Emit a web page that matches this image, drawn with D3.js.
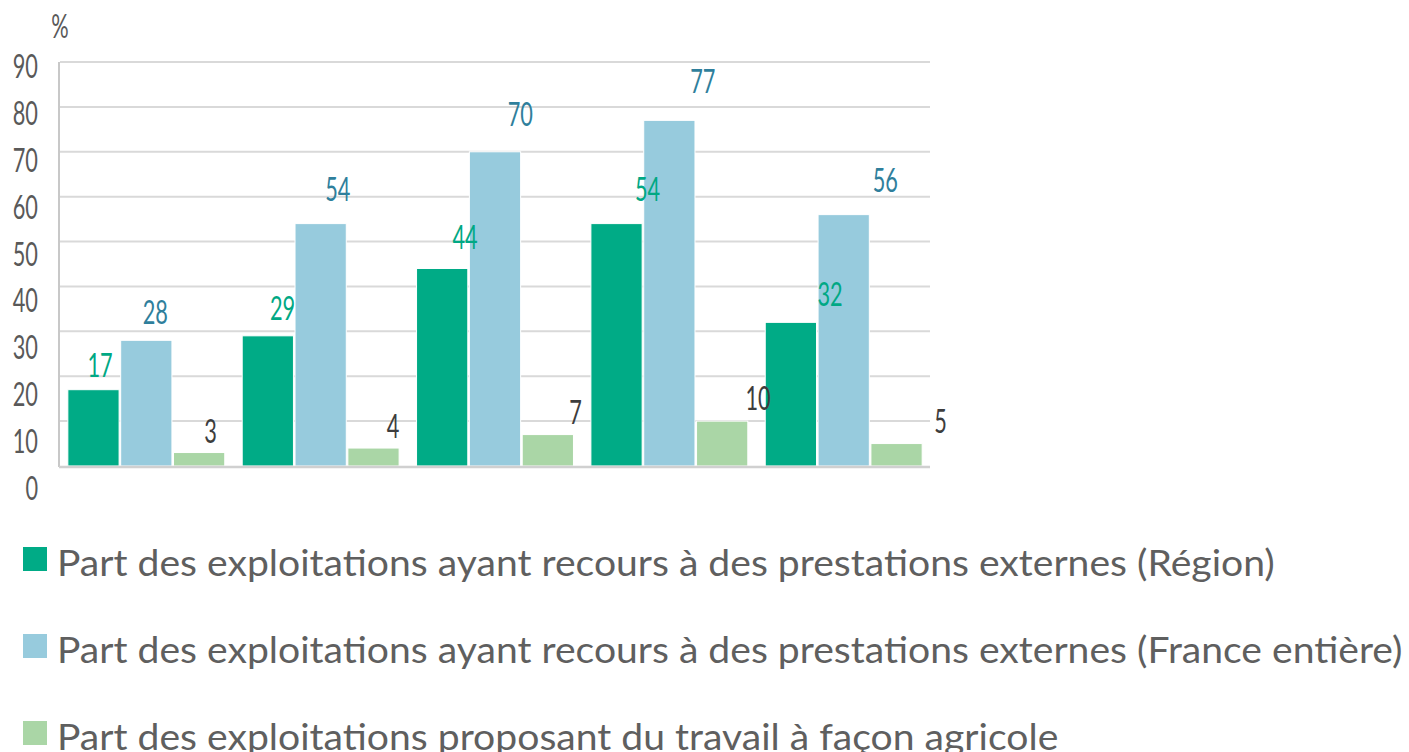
<!DOCTYPE html>
<html>
<head>
<meta charset="utf-8">
<script src="https://cdn.jsdelivr.net/npm/d3@7"></script>
<style>
  html, body { margin: 0; padding: 0; background: #fff; }
  svg { display: block; font-family: Lato, "Open Sans", sans-serif; }
</style>
</head>
<body>
<svg id="chart" width="1409" height="752"></svg>
<script>
// data
var categories = ["c1", "c2", "c3", "c4", "c5"];
var seriesNames = [
  "Part des exploitations ayant recours à des prestations externes (Région)",
  "Part des exploitations ayant recours à des prestations externes (France entière)",
  "Part des exploitations proposant du travail à façon agricole"
];
var region = [17, 29, 44, 54, 32];
var france = [28, 54, 70, 77, 56];
var facon = [3, 4, 7, 10, 5];
var yTicks = [0, 10, 20, 30, 40, 50, 60, 70, 80, 90];

var barColors = ["#00ab86", "#97cbdd", "#aad6a6"];
var labelColors = ["#00a884", "#2f7f9c", "#3d3d3d"];
var series = [region, france, facon];

var svg = d3.select("#chart");
var condensed = 0.68;

// scales
var x = d3.scaleBand().domain(categories).range([60, 930]).paddingInner(0.1).paddingOuter(0.045);
var xs = d3.scaleBand().domain([0, 1, 2]).range([0, x.bandwidth()]).paddingInner(0.03);
var y = d3.scaleLinear().domain([0, 90]).range([466, 62]);

// the text layer of the original sits slightly off the plot, keep it that way
var tickY = d3.scaleLinear().domain([0, 90]).range([500, 78]);
var labY = d3.scaleLinear().domain([0, 90]).range([457, 31]);
var c0 = x(categories[0]) + xs.bandwidth() / 2, c4 = x(categories[4]) + xs.bandwidth() / 2;
var labX = d3.scaleLinear().domain([c0, c4]).range([100, 830]);

// gridlines
svg.append("g").selectAll("line").data(yTicks.slice(1)).enter().append("line")
  .attr("x1", 60).attr("x2", 930)
  .attr("y1", function(d) { return y(d); }).attr("y2", function(d) { return y(d); })
  .attr("stroke", "#d9d9d9").attr("stroke-width", 2);

// bars
var groups = svg.append("g").selectAll("g").data(categories).enter().append("g")
  .attr("transform", function(d) { return "translate(" + x(d) + ",0)"; });
groups.selectAll("rect").data(function(d, i) { return series.map(function(s, k) { return {k: k, v: s[i]}; }); })
  .enter().append("rect")
  .attr("x", function(d) { return xs(d.k); })
  .attr("width", xs.bandwidth())
  .attr("y", function(d) { return y(d.v); })
  .attr("height", function(d) { return y(0) - y(d.v); })
  .attr("fill", function(d) { return barColors[d.k]; })
  .attr("stroke", "#fff").attr("stroke-width", 1);

// axes lines
svg.append("line").attr("x1", 59).attr("x2", 59).attr("y1", y(90)).attr("y2", y(0) + 1)
  .attr("stroke", "#c8c8c8").attr("stroke-width", 2);
svg.append("line").attr("x1", 59).attr("x2", 930).attr("y1", y(0) + 1).attr("y2", y(0) + 1)
  .attr("stroke", "#d0d0d0").attr("stroke-width", 2.5);

// y tick labels
svg.append("g").selectAll("text").data(yTicks).enter().append("text")
  .attr("transform", function(d) { return "translate(38," + tickY(d) + ") scale(" + condensed + ",1)"; })
  .attr("text-anchor", "end").attr("font-size", 32).attr("fill", "#595959")
  .text(function(d) { return d; });
svg.append("text")
  .attr("transform", "translate(60,38) scale(" + condensed + ",1)")
  .attr("text-anchor", "middle").attr("font-size", 32).attr("fill", "#595959")
  .text("%");

// value labels
categories.forEach(function(c, i) {
  series.forEach(function(s, k) {
    var cx = x(c) + xs(k) + xs.bandwidth() / 2;
    svg.append("text")
      .attr("transform", "translate(" + labX(cx) + "," + labY(s[i]) + ") scale(" + condensed + ",1)")
      .attr("text-anchor", "middle").attr("font-size", 32).attr("fill", labelColors[k])
      .text(s[i]);
  });
});

// legend
var legend = svg.append("g").selectAll("g").data(seriesNames).enter().append("g")
  .attr("transform", function(d, i) { return "translate(0," + (576 + i * 87) + ")"; });
legend.append("rect").attr("x", 23).attr("y", -29).attr("width", 24).attr("height", 24)
  .attr("fill", function(d, i) { return barColors[i]; });
var ltext = legend.append("text").attr("font-size", 36).attr("fill", "#5f5f5f")
  .text(function(d) { return d; });
var w0 = ltext.node().getComputedTextLength();
var sx = 1218 / w0;
ltext.attr("transform", "translate(57,0) scale(" + sx + ",1)");
</script>
</body>
</html>
